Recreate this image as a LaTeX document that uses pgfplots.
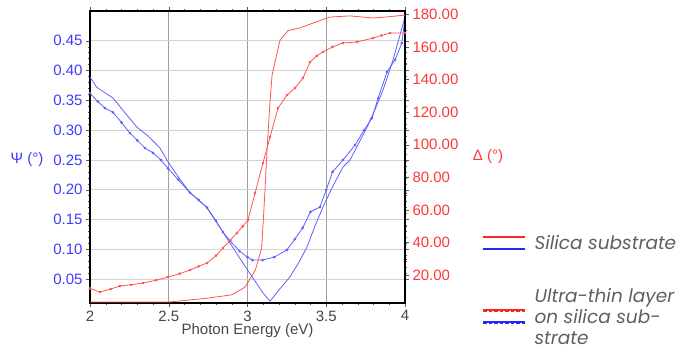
\documentclass[border=0pt]{standalone}
\usepackage{pgfplots}
\pgfplotsset{compat=1.18}
\usepackage{fontspec}
\setmainfont{Liberation Sans}
\newfontfamily\legfont{Poppins}
\definecolor{psiblue}{RGB}{60,60,255}
\definecolor{lineblue}{RGB}{95,95,255}
\definecolor{delred}{RGB}{255,55,55}
\definecolor{linered}{RGB}{255,85,85}
\definecolor{txtgray}{RGB}{70,70,70}
\definecolor{leggray}{RGB}{95,95,95}

\pgfplotstableread{
x y
2.000 0.389
2.043 0.372
2.100 0.362
2.146 0.354
2.220 0.330
2.298 0.305
2.370 0.290
2.444 0.270
2.500 0.245
2.570 0.218
2.635 0.195
2.743 0.170
2.844 0.129
2.971 0.077
3.098 0.027
3.143 0.013
3.200 0.032
3.270 0.054
3.330 0.080
3.378 0.104
3.430 0.140
3.479 0.171
3.540 0.205
3.606 0.238
3.651 0.250
3.710 0.280
3.759 0.305
3.810 0.335
3.860 0.367
3.924 0.418
4.000 0.490
}\psisub

\pgfplotstableread{
x y
2.000 0.362
2.050 0.348
2.095 0.337
2.146 0.330
2.200 0.313
2.254 0.295
2.300 0.283
2.349 0.270
2.400 0.262
2.450 0.250
2.495 0.236
2.560 0.217
2.635 0.195
2.690 0.183
2.743 0.170
2.800 0.148
2.844 0.129
2.890 0.114
2.950 0.097
3.000 0.087
3.032 0.082
3.095 0.082
3.170 0.087
3.250 0.099
3.300 0.117
3.350 0.136
3.400 0.163
3.460 0.171
3.500 0.200
3.540 0.230
3.606 0.250
3.683 0.275
3.740 0.300
3.790 0.320
3.830 0.354
3.886 0.398
3.937 0.418
3.980 0.446
4.000 0.488
}\psilay

\pgfplotstableread{
x y
2.000 3.6
2.300 3.6
2.500 3.6
2.750 6.0
2.900 8.0
2.985 12.8
3.050 23.2
3.090 36.7
3.110 70.0
3.124 96.8
3.140 122.0
3.156 142.8
3.206 164.0
3.257 170.0
3.333 171.6
3.416 174.6
3.524 178.3
3.651 179.0
3.797 177.7
3.900 178.5
4.000 179.5
}\delsub

\pgfplotstableread{
x y
2.000 12.0
2.063 9.7
2.130 11.5
2.190 13.4
2.260 14.2
2.337 15.2
2.420 17.0
2.495 18.9
2.570 21.0
2.635 23.2
2.690 25.5
2.743 27.5
2.800 32.0
2.844 36.7
2.890 41.5
2.933 45.9
2.970 50.0
3.003 53.9
3.048 70.4
3.098 88.8
3.143 104.7
3.194 122.5
3.251 130.5
3.302 134.8
3.352 140.9
3.397 150.7
3.440 154.5
3.479 156.9
3.540 160.0
3.606 162.4
3.695 163.0
3.797 165.4
3.850 167.0
3.905 168.5
4.000 168.5
}\dellay

\begin{document}
\begin{tikzpicture}
\useasboundingbox (0,0) rectangle (682pt,351pt);
\begin{axis}[
  at={(90pt,48pt)}, anchor=south west, scale only axis,
  width=315pt, height=292pt,
  xmin=2, xmax=4, ymin=0.01, ymax=0.5,
  xtick={2,2.5,3,3.5,4}, xticklabels={2,2.5,3,3.5,4},
  ytick={0.05,0.10,0.15,0.20,0.25,0.30,0.35,0.40,0.45},
  /pgf/number format/assume math mode=true,
  yticklabel style={/pgf/number format/fixed, /pgf/number format/fixed zerofill, /pgf/number format/precision=2, text=psiblue, font=\fontsize{15}{15}\selectfont},
  xticklabel style={text=txtgray, font=\fontsize{15}{15}\selectfont},
  xmajorgrids, ymajorgrids,
  x grid style={gray!75, line width=0.9pt},
  y grid style={gray!35, line width=0.9pt},
  axis line style={black, line width=1.1pt},
  tick style={gray!70!black, line width=0.5pt},
  tick align=outside, major tick length=4pt, minor tick length=2pt,
  minor x tick num=4, minor y tick num=4,
  xlabel={Photon Energy (eV)},
  xlabel style={text=txtgray, font=\fontsize{15}{16}\selectfont, yshift=4pt},
]
\addplot[lineblue, line width=0.8pt] table[x=x,y=y] {\psisub};
\addplot[lineblue, line width=0.8pt, mark=*, mark size=0.9pt] table[x=x,y=y] {\psilay};
\end{axis}
\begin{axis}[
  at={(90pt,48pt)}, anchor=south west, scale only axis,
  width=315pt, height=292pt,
  xmin=2, xmax=4, ymin=3, ymax=182,
  axis x line=none, axis y line*=right,
  ytick={20,40,60,80,100,120,140,160,180},
  /pgf/number format/assume math mode=true,
  yticklabel style={/pgf/number format/fixed, /pgf/number format/fixed zerofill, /pgf/number format/precision=2, text=delred, font=\fontsize{15}{15}\selectfont},
  axis line style={black, line width=1.1pt},
  tick style={gray!70!black, line width=0.5pt},
  tick align=outside, major tick length=4pt, minor tick length=2pt,
  minor y tick num=1,
]
\addplot[linered, line width=0.8pt] table[x=x,y=y] {\delsub};
\addplot[linered, line width=0.8pt, mark=*, mark size=0.9pt] table[x=x,y=y] {\dellay};
\end{axis}
% axis titles
\node[text=psiblue, font=\fontsize{15}{15}\selectfont] at (27pt,191pt) {Ψ (°)};
\node[text=delred, font=\fontsize{15}{15}\selectfont] at (488pt,194pt) {Δ (°)};
% legend
\draw[red!85, line width=2.2pt] (483pt,114pt) -- (525pt,114pt);
\draw[blue!85, line width=2.2pt] (483pt,102pt) -- (525pt,102pt);
\node[anchor=west, text=leggray, font=\legfont\itshape\fontsize{18.5}{21}\selectfont] at (531pt,108pt) {Silica substrate};
\draw[red!85, line width=1.4pt] (483pt,41pt) -- (525pt,41pt);
\draw[red!85, line width=3pt, dash pattern=on 3.5pt off 2pt] (483pt,41pt) -- (525pt,41pt);
\draw[blue!85, line width=1.4pt] (483pt,29pt) -- (525pt,29pt);
\draw[blue!85, line width=3pt, dash pattern=on 3.5pt off 2pt] (483pt,29pt) -- (525pt,29pt);
\node[anchor=west, text=leggray, font=\legfont\itshape\fontsize{18.5}{21}\selectfont, align=left] at (531pt,34pt) {Ultra-thin layer\\on silica sub-\\strate};
\end{tikzpicture}
\end{document}
